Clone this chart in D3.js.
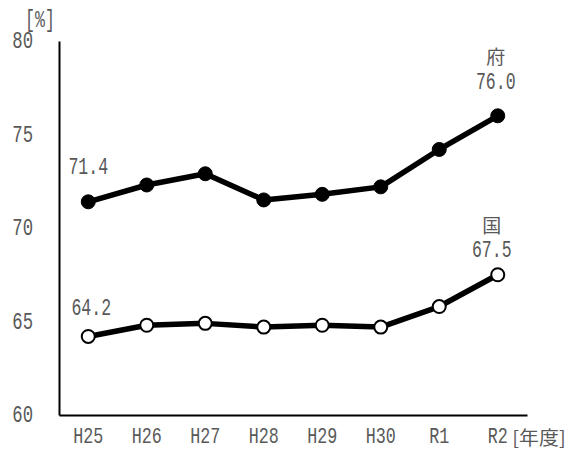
<!DOCTYPE html>
<html><head><meta charset="utf-8">
<script src="https://cdn.jsdelivr.net/npm/d3@7"></script>
<style>body{margin:0;background:#fff}svg{display:block}</style>
</head><body><svg id="c" width="571" height="450"></svg>
<script>
const categories = ["H25","H26","H27","H28","H29","H30","R1","R2"];
const prefValues = [71.4,72.3,72.9,71.5,71.8,72.2,74.2,76.0];
const natValues  = [64.2,64.8,64.9,64.7,64.8,64.7,65.8,67.5];
const yTicks = [60,65,70,75,80];
const seriesNames = ["府","国"];
const xUnit = "[年度]";
const yUnit = "[%]";

const svg = d3.select("#c");
const MONO = "'Liberation Mono','Noto Sans CJK JP',monospace";
const CJK = "'Noto Sans CJK JP',sans-serif";
const TXT = "#595959";
const x = d3.scaleBand().domain(categories).range([59,527]);
const cx = d => x(d) + x.bandwidth()/2;
const y = d3.scaleLinear().domain([60,80]).range([415,41]);

function label(t, px, py, anchor, opts){
  opts = opts || {};
  const sx = opts.sx || 0.72;
  svg.append("text")
    .attr("transform",`translate(${px},${py}) scale(${sx},1)`)
    .attr("text-anchor",anchor||"middle")
    .attr("dominant-baseline","central")
    .attr("font-family",opts.font||MONO).attr("font-size",opts.size||23)
    .attr("fill",TXT).text(t);
}

// axes
const yAxis = d3.axisLeft(y).tickValues(yTicks).tickSize(0).tickPadding(0);
const gy = svg.append("g").attr("transform","translate(59,0)").call(yAxis);
gy.select(".domain").attr("stroke","#000").attr("stroke-width",2);
gy.selectAll(".tick text").remove();
yTicks.forEach(v => label(String(v), 33, y(v)+1, "end", {size:24}));

const xAxis = d3.axisBottom(x).tickSize(0).tickPadding(0);
const gx = svg.append("g").attr("transform",`translate(0,${y(60)})`).call(xAxis);
gx.select(".domain").attr("stroke","#000").attr("stroke-width",2);
gx.selectAll(".tick text").remove();
categories.forEach(c => label(c, cx(c), 437, "middle", {size:22, sx:0.76}));
label(xUnit, 539, 437, "middle", {font:CJK, size:19, sx:1.05});
label(yUnit, 40, 21, "middle", {size:23});

// lines
const line = d3.line().x((d,i)=>cx(categories[i])).y(d=>y(d));
[[prefValues,"#000"],[natValues,"#fff"]].forEach(([vals,fill])=>{
  svg.append("path").datum(vals).attr("d",line)
    .attr("fill","none").attr("stroke","#000").attr("stroke-width",5.5)
    .attr("stroke-linejoin","round");
  svg.selectAll(null).data(vals).enter().append("circle")
    .attr("cx",(d,i)=>cx(categories[i])).attr("cy",d=>y(d))
    .attr("r",fill==="#000"?7:6.5)
    .attr("fill",fill).attr("stroke","#000").attr("stroke-width",fill==="#000"?1:2);
});

// data labels
const last = categories.length-1;
label(prefValues[0].toFixed(1), cx(categories[0]), y(prefValues[0])-34);
label(prefValues[last].toFixed(1), cx(categories[last])-2, y(prefValues[last])-33);
label(seriesNames[0], cx(categories[last])-2, y(prefValues[last])-60, "middle", {font:CJK, size:19, sx:1});
label(natValues[0].toFixed(1), cx(categories[0])+3, y(natValues[0])-28);
label(natValues[last].toFixed(1), cx(categories[last])-6, y(natValues[last])-24);
label(seriesNames[1], cx(categories[last])-6, y(natValues[last])-50, "middle", {font:CJK, size:19, sx:1});
</script></body></html>
